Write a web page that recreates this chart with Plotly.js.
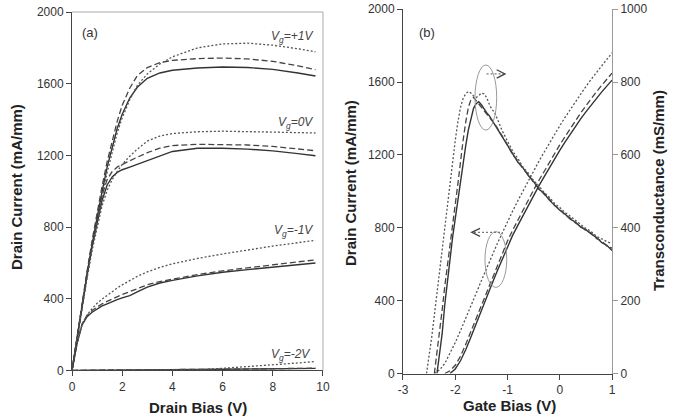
<!DOCTYPE html>
<html>
<head>
<meta charset="utf-8">
<script src="https://cdn.plot.ly/plotly-3.0.1.min.js"></script>
<style>html,body{margin:0;padding:0;background:#fff;}#chart{width:682px;height:420px;}</style>
</head>
<body>
<div id="chart"></div>
<script>
// ---------- Panel (a): Id-Vd ----------
var drainBias = [0,0.2,0.4,0.6,0.8,1.0,1.2,1.4,1.6,1.8,2.0,2.3,2.6,3.0,3.5,4.0,5.0,6.0,7.0,8.0,9.0,9.7];

var vgP1Solid  = [0,185,365,540,705,860,1000,1135,1250,1350,1430,1520,1580,1630,1660,1675,1688,1693,1690,1680,1660,1643];
var vgP1Dashed = [0,190,375,555,725,885,1030,1165,1285,1390,1480,1575,1645,1690,1718,1730,1740,1743,1738,1725,1700,1678];
var vgP1Dotted = [0,180,355,525,685,835,975,1105,1220,1325,1410,1510,1590,1655,1710,1750,1800,1822,1826,1815,1795,1778];

var vg0Solid   = [0,185,360,530,690,830,950,1035,1080,1105,1120,1135,1150,1170,1195,1222,1240,1240,1235,1225,1210,1198];
var vg0Dashed  = [0,188,368,545,710,855,980,1065,1110,1135,1150,1170,1190,1215,1240,1255,1262,1262,1258,1250,1237,1226];
var vg0Dotted  = [0,178,350,515,670,805,920,1005,1065,1110,1150,1195,1235,1280,1308,1322,1332,1335,1334,1330,1327,1325];

var vgM1Solid  = [0,150,255,300,325,345,360,372,385,395,405,418,438,465,488,503,528,548,563,577,590,600];
var vgM1Dashed = [0,152,260,308,335,355,372,386,400,412,424,440,458,478,496,510,535,556,574,590,606,617];
var vgM1Dotted = [0,150,258,310,345,375,398,420,440,460,478,502,525,550,575,595,625,650,673,694,713,726];

var vgM2Solid  = [0,1,1,1,2,2,2,2,2,3,3,3,3,4,4,5,6,7,8,9,11,12];
var vgM2Dashed = [0,1,1,2,2,2,2,3,3,3,3,4,4,4,5,5,6,7,8,10,11,13];
var vgM2Dotted = [0,0,0,0,0,0,0,0,0,0,0,0,0,0,0,0,4,12,21,31,42,50];

// ---------- Panel (b): Id-Vg and gm ----------
var gateBiasId = [-2.5,-2.4,-2.3,-2.2,-2.1,-2.0,-1.9,-1.8,-1.7,-1.6,-1.5,-1.4,-1.3,-1.2,-1.1,-1.0,-0.9,-0.8,-0.7,-0.6,-0.5,-0.4,-0.3,-0.2,-0.1,0,0.1,0.2,0.3,0.4,0.5,0.6,0.7,0.8,0.9,1.0];
var idSolid  = [null,null,null,null,0,25,70,130,200,275,350,420,490,560,630,700,760,815,870,925,978,1030,1080,1130,1178,1225,1270,1315,1357,1398,1437,1475,1511,1545,1578,1611];
var idDashed = [null,null,null,0,15,45,95,160,230,305,380,450,520,590,660,728,788,845,900,955,1008,1060,1110,1160,1208,1255,1300,1345,1388,1430,1470,1510,1546,1582,1616,1649];
var idDotted = [null,0,20,55,110,170,235,300,370,440,510,580,645,710,772,835,893,950,1005,1060,1113,1165,1215,1265,1313,1360,1406,1450,1493,1535,1576,1615,1653,1690,1725,1760];

var gateBiasGm = [-2.60,-2.55,-2.50,-2.45,-2.40,-2.35,-2.30,-2.25,-2.20,-2.15,-2.10,-2.05,-2.00,-1.95,-1.90,-1.85,-1.80,-1.75,-1.70,-1.65,-1.60,-1.55,-1.50,-1.45,-1.40,-1.35,-1.30,-1.25,-1.20,-1.10,-1.00,-0.90,-0.80,-0.70,-0.60,-0.50,-0.40,-0.30,-0.20,-0.10,0.00,0.10,0.20,0.30,0.40,0.50,0.60,0.70,0.80,0.90,1.00];
var gmSolid  = [null,null,null,null,null,0,50,110,190,255,320,375,425,478,522,575,625,668,703,728,741,746,738,726,716,708,696,688,672,650,624,603,580,564,543,527,506,495,476,463,448,438,424,416,402,395,383,374,360,352,338];
var gmDashed = [null,null,null,null,0,55,115,175,240,300,360,415,465,520,585,640,690,730,752,758,749,740,732,724,714,704,698,686,675,652,628,600,584,561,546,524,510,492,479,461,451,435,427,413,405,392,386,371,364,350,344];
var gmDotted = [null,0,45,100,160,222,285,348,410,470,531,588,640,690,730,755,768,774,770,762,758,763,770,768,758,740,725,718,700,666,638,610,590,566,550,530,515,497,484,467,456,442,432,420,410,398,390,377,370,362,357];

// ---------- Tick values / labels ----------
var xTicksA = [0,2,4,6,8,10];
var xTickTextA = ['0','2','4','6','8','10'];
var yTicksA = [0,400,800,1200,1600,2000];
var yTickTextA = ['0','400','800','1200','1600','2000'];
var xTicksB = [-3,-2,-1,0,1];
var xTickTextB = ['-3','-2','-1','0','1'];
var yTicksGm = [0,200,400,600,800,1000];
var yTickTextGm = ['0','200','400','600','800','1000'];

var FONT = 'Liberation Sans, Arial, sans-serif';
var SOLID  = {color:'#333', width:1.4, dash:'solid'};
var DASHED = {color:'#444', width:1.3, dash:'6px,3px'};
var DOTTED = {color:'#555', width:1.3, dash:'2px,2px'};

function tr(x, y, line, xa, ya) {
  return {x:x, y:y, type:'scatter', mode:'lines', line:line, xaxis:xa, yaxis:ya,
          hoverinfo:'skip', showlegend:false, connectgaps:false};
}

var data = [
  tr(drainBias, vgM2Solid, SOLID, 'x', 'y'),
  tr(drainBias, vgM2Dashed, DASHED, 'x', 'y'),
  tr(drainBias, vgM2Dotted, DOTTED, 'x', 'y'),
  tr(drainBias, vgM1Solid, SOLID, 'x', 'y'),
  tr(drainBias, vgM1Dashed, DASHED, 'x', 'y'),
  tr(drainBias, vgM1Dotted, DOTTED, 'x', 'y'),
  tr(drainBias, vg0Solid, SOLID, 'x', 'y'),
  tr(drainBias, vg0Dashed, DASHED, 'x', 'y'),
  tr(drainBias, vg0Dotted, DOTTED, 'x', 'y'),
  tr(drainBias, vgP1Solid, SOLID, 'x', 'y'),
  tr(drainBias, vgP1Dashed, DASHED, 'x', 'y'),
  tr(drainBias, vgP1Dotted, DOTTED, 'x', 'y'),
  tr(gateBiasId, idSolid, SOLID, 'x2', 'y2'),
  tr(gateBiasId, idDashed, DASHED, 'x2', 'y2'),
  tr(gateBiasId, idDotted, DOTTED, 'x2', 'y2'),
  tr(gateBiasGm, gmSolid, SOLID, 'x2', 'y3'),
  tr(gateBiasGm, gmDashed, DASHED, 'x2', 'y3'),
  tr(gateBiasGm, gmDotted, DOTTED, 'x2', 'y3')
];

var tickFont = {family:FONT, size:12, color:'#333'};
function axis(extra) {
  var a = {showgrid:false, zeroline:false, showline:true, linecolor:'#444', linewidth:1,
           ticks:'outside', ticklen:5, tickcolor:'#444', tickfont:tickFont, fixedrange:true,
           tickmode:'array'};
  for (var k in extra) a[k] = extra[k];
  return a;
}

var titleFont = {family:FONT, size:15, color:'#222'};
function title(txt, x, y, angle) {
  return {text:'<b>'+txt+'</b>', xref:'paper', yref:'paper', x:x/682, y:1-y/420,
          xanchor:'center', yanchor:'middle', showarrow:false, textangle:angle||0, font:titleFont};
}
function vgLabel(txt, x, y) {
  return {text:'<i>V<sub>g</sub>='+txt+'</i>', xref:'x', yref:'y', x:x, y:y,
          xanchor:'right', yanchor:'middle', showarrow:false,
          font:{family:FONT, size:12, color:'#444'}};
}

var layout = {
  width:682, height:420,
  margin:{l:0, r:0, t:0, b:0},
  paper_bgcolor:'#fff', plot_bgcolor:'rgba(0,0,0,0)',
  showlegend:false,
  xaxis: axis({domain:[0.1056,0.4736], range:[0,10], tickvals:xTicksA, ticktext:xTickTextA, anchor:'y'}),
  yaxis: axis({domain:[0.1179,0.9714], range:[0,2000], tickvals:yTicksA, ticktext:yTickTextA, anchor:'x'}),
  xaxis2: axis({domain:[0.5909,0.8974], range:[-3,1], tickvals:xTicksB, ticktext:xTickTextB, anchor:'y2'}),
  yaxis2: axis({domain:[0.1107,0.9779], range:[0,2000], tickvals:yTicksA, ticktext:yTickTextA, anchor:'x2'}),
  yaxis3: axis({domain:[0.1107,0.9779], range:[0,1000], tickvals:yTicksGm, ticktext:yTickTextGm, anchor:'x2',
                overlaying:'y2', side:'right', linecolor:'#999', tickcolor:'#999'}),
  shapes: [
    {type:'line', xref:'x domain', yref:'y domain', x0:0, x1:1, y0:1, y1:1, line:{color:'#aaa', width:1}},
    {type:'line', xref:'x domain', yref:'y domain', x0:1, x1:1, y0:0, y1:1, line:{color:'#aaa', width:1}},
    {type:'circle', xref:'x2', yref:'y2', x0:-1.622, x1:-1.207, y0:1337, y1:1694, line:{color:'#999', width:1}},
    {type:'circle', xref:'x2', yref:'y2', x0:-1.431, x1:-1.015, y0:473, y1:779, line:{color:'#999', width:1}},
    {type:'line', xref:'x2', yref:'y2', x0:-1.40, x1:-1.06, y0:1645, y1:1645, line:{color:'#777', width:1.2, dash:'2px,2px'}},
    {type:'path', xref:'x2', yref:'y2', path:'M -1.207 1668 L -1.048 1645 L -1.207 1622', line:{color:'#444', width:1.3}},
    {type:'line', xref:'x2', yref:'y2', x0:-1.144, x1:-1.67, y0:775, y1:775, line:{color:'#777', width:1.2, dash:'2px,2px'}},
    {type:'path', xref:'x2', yref:'y2', path:'M -1.526 797 L -1.685 775 L -1.526 753', line:{color:'#444', width:1.3}}
  ],
  annotations: [
    title('Drain Current (mA/mm)', 16, 187, -90),
    title('Drain Bias (V)', 198, 407, 0),
    title('Drain Current (mA/mm)', 350, 183, -90),
    title('Gate Bias (V)', 509, 405, 0),
    title('Transconductance (mS/mm)', 659, 191, -90),
    {text:'(a)', xref:'x', yref:'y', x:0.72, y:1883, showarrow:false, xanchor:'center', yanchor:'middle',
     font:{family:FONT, size:13, color:'#333'}},
    {text:'(b)', xref:'x2', yref:'y2', x:-2.54, y:1875, showarrow:false, xanchor:'center', yanchor:'middle',
     font:{family:FONT, size:13, color:'#333'}},
    vgLabel('+1V', 9.7, 1860),
    vgLabel('0V', 9.7, 1381),
    vgLabel('-1V', 9.7, 778),
    vgLabel('-2V', 9.56, 86)
  ]
};

Plotly.newPlot('chart', data, layout, {staticPlot:true, displayModeBar:false});
</script>
</body>
</html>
